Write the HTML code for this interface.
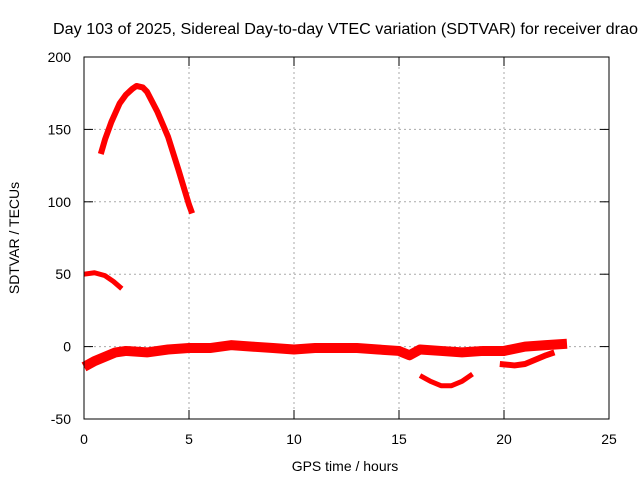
<!DOCTYPE html>
<html><head><meta charset="utf-8"><style>
body{margin:0;background:#fff}
svg{display:block;font-family:"Liberation Sans",sans-serif}
</style></head><body>
<svg id="c" width="640" height="480">
<text x="53" y="34" font-size="15.5" textLength="585" lengthAdjust="spacingAndGlyphs">Day 103 of 2025, Sidereal Day-to-day VTEC variation (SDTVAR) for receiver drao</text>
<text x="345" y="471" font-size="14" text-anchor="middle">GPS time / hours</text>
<text transform="translate(19,238) rotate(-90)" font-size="14" text-anchor="middle">SDTVAR / TECUs</text>
<g id="grid"></g><g id="series"></g>
<rect x="84" y="57" width="525" height="362" fill="none" stroke="#000"/>
</svg>
<script>
const xTicks=[0,5,10,15,20,25];
const yTicks=[-50,0,50,100,150,200];
const arc1X=[0.8,1.0,1.3,1.7,2.0,2.3,2.5,2.8,3.0,3.5,4.0,4.5,5.0,5.15];
const arc1Y=[133,143,155,168,174,178,180,179,176,162,145,122,98,92];
const arc2X=[0,0.5,1.0,1.4,1.8];
const arc2Y=[50,51,49,45,40];
const bandX=[0,0.5,1,1.5,2,3,4,5,6,7,8,9,10,11,12,13,14,15,15.5,16,17,18,19,20,21,22,23];
const bandY=[-14,-10,-7,-4,-3,-4,-2,-1,-1,1,0,-1,-2,-1,-1,-1,-2,-3,-6,-2,-3,-4,-3,-3,0,1,2];
const arc3X=[16.0,16.5,17,17.5,18,18.5];
const arc3Y=[-20,-24,-27,-27,-24,-19];
const arc4X=[19.8,20.5,21,21.5,22,22.4];
const arc4Y=[-12,-13,-12,-9,-6,-4];
const X=v=>84+v*21, Y=v=>346.6-v*1.448;
const NS='http://www.w3.org/2000/svg';
const g=document.getElementById('grid'), s=document.getElementById('series'), svg=document.getElementById('c');
function mk(t,a,p){const e=document.createElementNS(NS,t);for(const k in a)e.setAttribute(k,a[k]);p.appendChild(e);return e;}
xTicks.forEach(v=>{
  if(v>0&&v<25){const l=mk('line',{x1:X(v),x2:X(v),y1:57,y2:419,stroke:'#aaa','stroke-dasharray':'2,3'},g);
  
  }
  mk('line',{x1:X(v),x2:X(v),y1:419,y2:410,stroke:'#000'},g);
  mk('line',{x1:X(v),x2:X(v),y1:57,y2:66,stroke:'#000'},g);
  const t=mk('text',{x:X(v),y:444,'font-size':14,'text-anchor':'middle'},svg);t.textContent=v;
  
  
});
yTicks.forEach(v=>{
  if(v>-50&&v<200){const l=mk('line',{x1:84,x2:609,y1:Y(v),y2:Y(v),stroke:'#aaa','stroke-dasharray':'2,3'},g);
  
  }
  mk('line',{x1:84,x2:93,y1:Y(v),y2:Y(v),stroke:'#000'},g);
  mk('line',{x1:600,x2:609,y1:Y(v),y2:Y(v),stroke:'#000'},g);
  const t=mk('text',{x:71,y:Y(v)+5,'font-size':14,'text-anchor':'end'},svg);t.textContent=v;
  
  
});
[[arc1X,arc1Y,6],[arc2X,arc2Y,5],[bandX,bandY,10],[arc3X,arc3Y,5],[arc4X,arc4Y,6]].forEach(([xs,ys,w],i)=>{
  const p=mk('polyline',{points:xs.map((x,j)=>X(x)+','+Y(ys[j])).join(' '),fill:'none',stroke:'#f00','stroke-width':w,'stroke-linejoin':'round'},s);
  
  
});
</script>
</body></html>
